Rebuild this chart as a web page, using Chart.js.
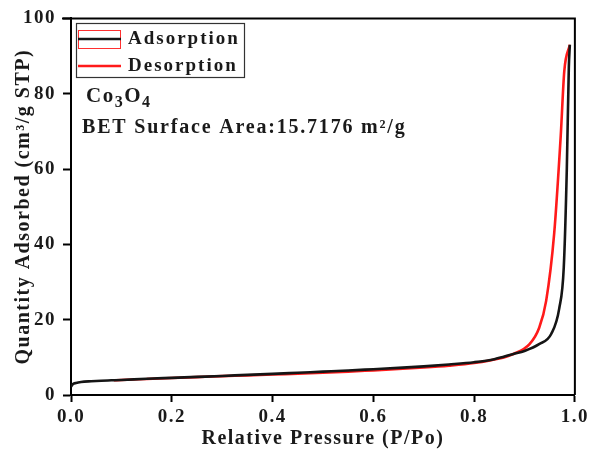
<!DOCTYPE html>
<html><head><meta charset="utf-8">
<script src="https://cdn.jsdelivr.net/npm/chart.js@4/dist/chart.umd.min.js"></script>
<style>html,body{margin:0;padding:0;background:#fff}#wrap{width:593px;height:451px;position:relative}</style>
</head><body><div id="wrap"><canvas id="c" width="593" height="451"></canvas></div>
<script>
const adsX = [0.0,0.004,0.01,0.02,0.04,0.06,0.08,0.1,0.15,0.2,0.25,0.3,0.35,0.4,0.45,0.5,0.55,0.6,0.65,0.7,0.75,0.8,0.84,0.878,0.9,0.929,0.953,0.969,0.978,0.984,0.988,0.99];
const adsY = [2.2,2.9,3.2,3.45,3.65,3.8,3.9,4.0,4.3,4.55,4.8,5.05,5.35,5.6,5.9,6.2,6.5,6.85,7.2,7.6,8.1,8.7,9.5,10.9,11.7,13.5,16.2,23,34,60,87,93];
const desX = [0.99,0.979,0.972,0.959,0.943,0.929,0.91,0.878,0.85,0.8,0.75,0.7,0.65,0.6,0.55,0.5,0.45,0.4,0.35,0.3,0.25,0.2,0.15,0.1,0.085];
const desY = [93,86,69,43,25,17.8,13.5,10.9,9.7,8.5,7.8,7.3,6.9,6.55,6.2,5.9,5.65,5.45,5.2,5.0,4.75,4.5,4.25,4.0,3.9];
const xTicks = [0,0.2,0.4,0.6,0.8,1.0];
const yTicks = [0,20,40,60,80,100];
const seriesNames = ['Adsorption','Desorption'];
const seriesColors = ['#151515','#ff1a1a'];
const sampleName = 'Co';
const bet = 'BET Surface Area:15.7176 m²/g';

const FONT = "'Liberation Serif','Times New Roman',serif";
const toPts = (xs, ys) => xs.map((x,i)=>({x, y: ys[i]}));
const LS = '1.5px';

const spacing = {
  id:'spacing',
  beforeLayout(chart){ chart.ctx.letterSpacing = LS; },
  beforeDraw(chart){ chart.ctx.letterSpacing = LS; }
};

const deco = {
  id:'deco',
  afterDraw(chart){
    const {ctx, chartArea:a} = chart;
    ctx.save();
    ctx.strokeStyle='#000'; ctx.lineWidth=2;
    ctx.beginPath(); ctx.moveTo(62,a.top); ctx.lineTo(a.right,a.top); ctx.lineTo(a.right,a.bottom); ctx.stroke();
    // legend
    ctx.lineWidth=1.2; ctx.strokeStyle='#333';
    ctx.strokeRect(76.5,23.5,168,54);
    ctx.strokeStyle='#ff3030'; ctx.lineWidth=1;
    ctx.strokeRect(78.5,30.5,42,18);
    const ly=[39,66];
    seriesNames.forEach((n,i)=>{
      ctx.strokeStyle=seriesColors[i]; ctx.lineWidth=2.5;
      ctx.beginPath(); ctx.moveTo(78,ly[i]); ctx.lineTo(121,ly[i]); ctx.stroke();
      ctx.fillStyle='#1a1a1a'; ctx.font='bold 19px '+FONT; ctx.textBaseline='alphabetic';
      ctx.letterSpacing='2px';
      ctx.fillText(n,128,ly[i]+5);
    });
    // sample label Co3O4
    ctx.textBaseline='alphabetic'; ctx.fillStyle='#1a1a1a';
    ctx.letterSpacing='1.5px';
    let x=86; const by=102;
    ctx.font='bold 21px '+FONT;
    ctx.fillText(sampleName,x,by); x+=ctx.measureText(sampleName).width;
    ctx.font='bold 16px '+FONT; ctx.fillText('3',x,by+5); x+=ctx.measureText('3').width;
    ctx.font='bold 21px '+FONT; ctx.fillText('O',x,by); x+=ctx.measureText('O').width;
    ctx.font='bold 16px '+FONT; ctx.fillText('4',x,by+5);
    ctx.font='bold 20px '+FONT;
    ctx.letterSpacing='1.8px';
    ctx.fillText(bet,82,133);
    ctx.restore();
  }
};

new Chart(document.getElementById('c'), {
  type:'scatter',
  data:{datasets:[
    {label:seriesNames[0], data:toPts(adsX,adsY), showLine:true, borderColor:seriesColors[0], borderWidth:2.6, pointRadius:0, cubicInterpolationMode:'monotone'},
    {label:seriesNames[1], data:toPts(desX,desY), showLine:true, borderColor:seriesColors[1], borderWidth:2.6, pointRadius:0, cubicInterpolationMode:'monotone'}
  ]},
  options:{
    responsive:false, animation:false,
    layout:{padding:{top:18,right:14,left:0,bottom:0}},
    plugins:{legend:{display:false},tooltip:{enabled:false}},
    scales:{
      x:{type:'linear',min:0,max:1,
        afterBuildTicks(s){s.ticks=xTicks.map(v=>({value:v}));},
        afterFit(s){s.height=56;},
        grid:{drawOnChartArea:false,tickLength:7,tickColor:'#000',tickWidth:2},
        border:{color:'#000',width:2},
        ticks:{color:'#1a1a1a',font:{family:FONT,size:19,weight:'bold'},padding:4,maxRotation:0,callback:v=>v.toFixed(1)},
        title:{display:true,text:'Relative Pressure (P/Po)',color:'#1a1a1a',font:{family:FONT,size:20,weight:'bold'},padding:{top:0,bottom:0}}
      },
      y:{type:'linear',min:0,max:100,
        afterBuildTicks(s){s.ticks=yTicks.map(v=>({value:v}));},
        afterFit(s){s.width=71;},
        grid:{drawOnChartArea:false,tickLength:8,tickColor:'#000',tickWidth:2},
        border:{color:'#000',width:2},
        ticks:{color:'#1a1a1a',font:{family:FONT,size:19,weight:'bold'},padding:7},
        title:{display:true,text:'Quantity Adsorbed (cm³/g STP)',color:'#1a1a1a',font:{family:FONT,size:20,weight:'bold'},padding:{top:12,bottom:0}}
      }
    }
  },
  plugins:[spacing, deco]
});
</script></body></html>
